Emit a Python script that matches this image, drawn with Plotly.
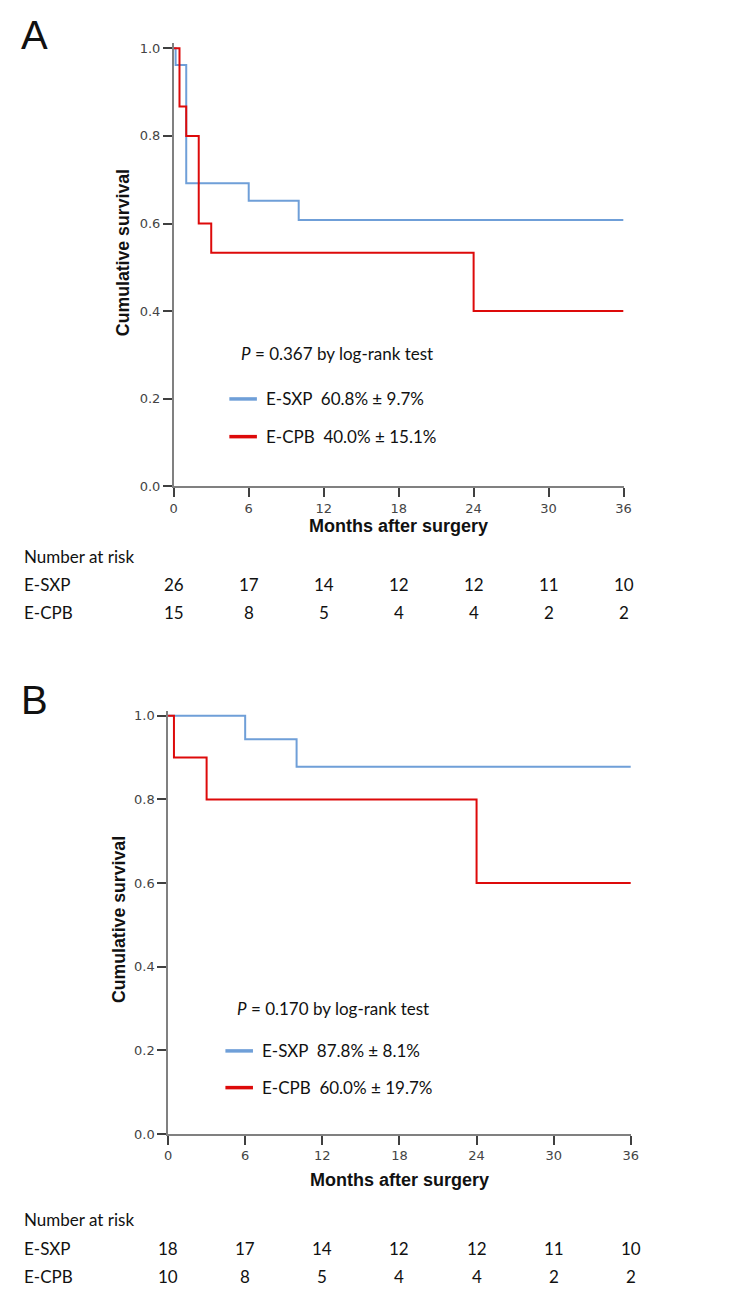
import plotly.graph_objects as go

# ---- data ----
months_ticks = [0, 6, 12, 18, 24, 30, 36]
y_ticks = [0.0, 0.2, 0.4, 0.6, 0.8, 1.0]

# panel A
a_sxp_t = [0, 0.15, 1, 6, 10, 36]
a_sxp_s = [1.0, 0.962, 0.692, 0.652, 0.608, 0.608]
a_cpb_t = [0, 0.46, 1, 2, 3, 24, 36]
a_cpb_s = [1.0, 0.867, 0.800, 0.600, 0.533, 0.400, 0.400]
a_risk_sxp = [26, 17, 14, 12, 12, 11, 10]
a_risk_cpb = [15, 8, 5, 4, 4, 2, 2]
a_p_text = "<i>P</i> = 0.367 by log-rank test"
a_sxp_label = "E-SXP  60.8% ± 9.7%"
a_cpb_label = "E-CPB  40.0% ± 15.1%"

# panel B
b_sxp_t = [0, 6, 10, 36]
b_sxp_s = [1.0, 0.944, 0.878, 0.878]
b_cpb_t = [0, 0.46, 3, 24, 36]
b_cpb_s = [1.0, 0.900, 0.800, 0.600, 0.600]
b_risk_sxp = [18, 17, 14, 12, 12, 11, 10]
b_risk_cpb = [10, 8, 5, 4, 4, 2, 2]
b_p_text = "<i>P</i> = 0.170 by log-rank test"
b_sxp_label = "E-SXP  87.8% ± 8.1%"
b_cpb_label = "E-CPB  60.0% ± 19.7%"

BLUE = "#6f9fd8"
RED = "#dd0a0a"
W, H = 752, 1305
TEXT_FONT = "Lato"


def px(x):
    return x / W


def py(y):
    return 1 - y / H


fig = go.Figure()

fig.add_trace(go.Scatter(x=a_sxp_t, y=a_sxp_s, mode="lines", line_shape="hv",
                         line=dict(color=BLUE, width=2), xaxis="x", yaxis="y"))
fig.add_trace(go.Scatter(x=a_cpb_t, y=a_cpb_s, mode="lines", line_shape="hv",
                         line=dict(color=RED, width=2), xaxis="x", yaxis="y"))
fig.add_trace(go.Scatter(x=b_sxp_t, y=b_sxp_s, mode="lines", line_shape="hv",
                         line=dict(color=BLUE, width=2), xaxis="x2", yaxis="y2"))
fig.add_trace(go.Scatter(x=b_cpb_t, y=b_cpb_s, mode="lines", line_shape="hv",
                         line=dict(color=RED, width=2), xaxis="x2", yaxis="y2"))

axis_common = dict(showgrid=False, zeroline=False, showline=True, linecolor="#808080",
                   linewidth=1.5, ticks="outside", ticklen=9, tickcolor="#404040",
                   tickwidth=1.5, tickfont=dict(family="DejaVu Sans", size=13, color="#444"))

# panel geometry in pixels: (x0, x36, y0, y1)
pa = (172.5, 629.6, 488.0, 46.7)
pb = (166.7, 637.0, 1140.7, 719.3)
YTOP = 1.012


def ydomain(p):
    y0, y1 = p[2], p[3]
    top = y0 - (y0 - y1) * YTOP
    return [py(y0), py(top)]


fig.update_layout(
    width=W, height=H, margin=dict(l=0, r=0, t=0, b=0),
    paper_bgcolor="white", plot_bgcolor="white", showlegend=False,
    xaxis=dict(domain=[px(pa[0]), px(pa[1])], range=[0, 36], tickvals=months_ticks,
               anchor="y", **axis_common),
    yaxis=dict(domain=ydomain(pa), range=[0, YTOP], tickvals=y_ticks, tickformat=".1f",
               anchor="x", **axis_common),
    xaxis2=dict(domain=[px(pb[0]), px(pb[1])], range=[0, 36], tickvals=months_ticks,
                anchor="y2", **axis_common),
    yaxis2=dict(domain=ydomain(pb), range=[0, YTOP], tickvals=y_ticks, tickformat=".1f",
                anchor="x2", **axis_common),
)

annotations = []
shapes = []


def txt(x, y, s, size, family=TEXT_FONT, bold=False, xanchor="left", xref="paper",
        angle=0, color="#111"):
    annotations.append(dict(
        x=x if xref != "paper" else px(x), y=py(y), xref=xref, yref="paper", text=s,
        showarrow=False, xanchor=xanchor, yanchor="middle", textangle=angle,
        font=dict(family=family, size=size, color=color,
                  weight="bold" if bold else "normal")))


def panel(label, label_y, p, xref, ylab_x, ylab_y, xlab_y, p_text, p_y, leg_x, leg1_y,
          leg2_y, lab1, lab2, risk_y, risk1, risk2):
    txt(15, label_y, label, 40, family="Liberation Sans")
    txt(ylab_x, ylab_y, "Cumulative survival", 17.7, family="Liberation Sans", bold=True,
        xanchor="center", angle=-90)
    txt((p[0] + p[1]) / 2, xlab_y, "Months after surgery", 18, family="Liberation Sans",
        bold=True, xanchor="center")
    txt(leg_x + 6, p_y, p_text, 17)
    for yy, col, lab in ((leg1_y, BLUE, lab1), (leg2_y, RED, lab2)):
        shapes.append(dict(type="line", xref="paper", yref="paper", x0=px(leg_x - 4),
                           x1=px(leg_x + 24), y0=py(yy), y1=py(yy),
                           line=dict(color=col, width=3.5)))
        txt(leg_x + 31, yy, lab, 17)
    txt(18, risk_y[0], "Number at risk", 17)
    txt(18, risk_y[1], "E-SXP", 17)
    txt(18, risk_y[2], "E-CPB", 17)
    for m, n1, n2 in zip(months_ticks, risk1, risk2):
        txt(m, risk_y[1], str(n1), 17, xanchor="center", xref=xref)
        txt(m, risk_y[2], str(n2), 17, xanchor="center", xref=xref)


panel("A", 33, pa, "x", 121, 253, 528, a_p_text, 354, 233, 400, 438, a_sxp_label,
      a_cpb_label, (559, 587, 615), a_risk_sxp, a_risk_cpb)
panel("B", 703, pb, "x2", 117, 925, 1187, b_p_text, 1014, 229, 1057, 1094, b_sxp_label,
      b_cpb_label, (1227, 1256, 1284), b_risk_sxp, b_risk_cpb)

fig.update_layout(annotations=annotations, shapes=shapes)

# the page has a default 8px body margin and may scroll; pin the figure to the window origin
page_css = ("document.documentElement.style.margin='0';"
            "document.documentElement.style.overflow='hidden';"
            "document.body.style.margin='0';"
            "document.body.style.overflow='hidden';")
fig.write_html("out.html", post_script=page_css, config={"displayModeBar": False})
